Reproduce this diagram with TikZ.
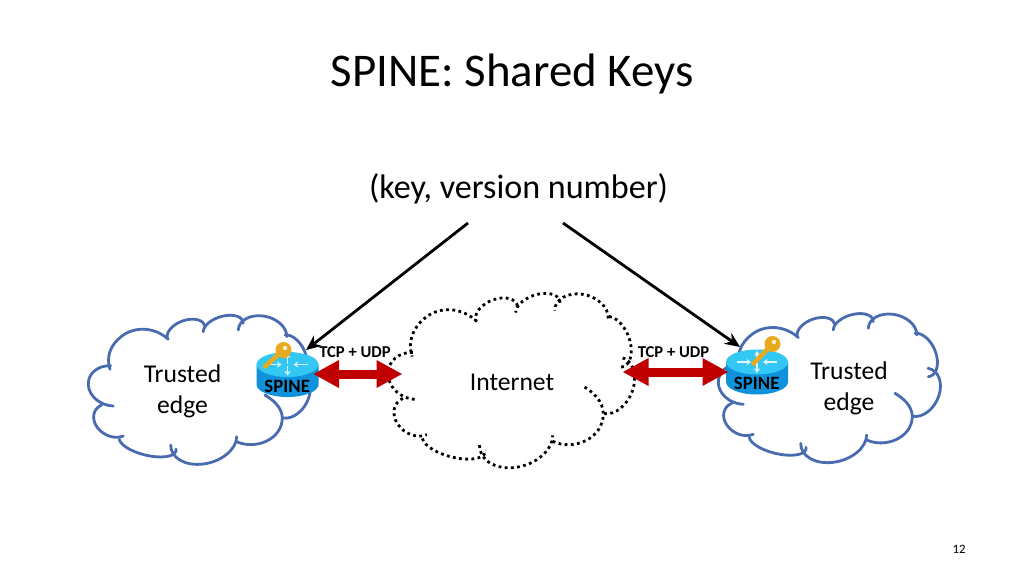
\documentclass[tikz,border=0pt]{standalone}
\usepackage{fontspec}
\setmainfont{Carlito}
\usetikzlibrary{arrows.meta}
\definecolor{cloudblue}{RGB}{72,108,175}
\definecolor{linkred}{RGB}{192,0,0}
\definecolor{keygold}{RGB}{232,170,30}
\definecolor{topblue}{RGB}{50,200,243}
\definecolor{sideblue}{RGB}{15,145,220}
\tikzset{
  cloudline/.style={cloudblue,line width=2.8pt,line cap=round},
  dotline/.style={black,line width=2.8pt,dash pattern=on 2.8pt off 3.4pt},
  pointer/.style={black,line width=2.8pt,-{Stealth[length=15pt,width=13pt]}},
  duplex/.style={linkred,line width=9pt,{Triangle[length=26pt,width=26pt]}-{Triangle[length=26pt,width=26pt]}},
  body/.style={font=\fontsize{25.6}{31}\selectfont,align=center,inner sep=0pt},
  proto/.style={font=\fontsize{16.6}{18}\selectfont\bfseries,inner sep=0pt},
  routername/.style={font=\fontsize{18.8}{20}\selectfont\bfseries,inner sep=0pt},
  flow/.style={white!85!topblue,line width=1.6pt,-{Stealth[length=4.5pt,width=6pt]}},
}
% half-ellipse lobe through start, apex, end
\newcommand{\lobe}[7]{%
  \pgfmathsetmacro{\ox}{(#2+#6)/2}\pgfmathsetmacro{\oy}{(#3+#7)/2}%
  \pgfmathsetmacro{\ax}{.552*(#2-\ox)}\pgfmathsetmacro{\ay}{.552*(#3-\oy)}%
  \pgfmathsetmacro{\bx}{.552*(#4-\ox)}\pgfmathsetmacro{\by}{.552*(#5-\oy)}%
  \draw[#1] (#2,#3) .. controls ({#2+\bx},{#3+\by}) and ({#4+\ax},{#5+\ay}) .. (#4,#5)
    .. controls ({#4-\ax},{#5-\ay}) and ({#6+\bx},{#7+\by}) .. (#6,#7);
}
\newcommand{\cloudlobes}[1]{%
  \lobe{#1}{110.7}{365.7}{88.3}{385}{113.3}{406}
  \lobe{#1}{101.7}{405}{97}{427}{123.3}{436}
  \lobe{#1}{119.3}{439.3}{150}{456}{176}{449}
  \lobe{#1}{170.7}{445}{203.3}{464}{236.7}{436.7}
  \draw[#1] (236.7,441.7) .. controls (255,450) and (282,440) .. (282.3,418) .. controls (282,407) and (273,400) .. (265,395);
  \lobe{#1}{283}{418}{309}{397}{298}{370}
  \lobe{#1}{298.3}{378.4}{306}{355}{285}{335}
  \lobe{#1}{286.7}{336.7}{263.3}{316}{238.3}{330}
  \lobe{#1}{243.3}{323.3}{223.3}{316}{203.3}{331.7}
  \lobe{#1}{205}{326}{183.3}{320.7}{167.3}{338.3}
  \draw[#1] (168.3,339.3) .. controls (155,327) and (135,326) .. (122,336) .. controls (110,345) and (106,357) .. (110,369.3);
}
% #1 name, #2 centre x, #3 top ellipse centre y, #4 key circle x, #5 key circle y, #6 key tail x, #7 key tail y
\newcommand{\spinerouter}[7]{%
  \fill[sideblue] (#2-31,#3) -- (#2-31,#3+20) arc[x radius=31,y radius=12.5,start angle=180,end angle=0] -- (#2+31,#3) -- cycle;
  \fill[topblue] (#2,#3) ellipse[x radius=31,y radius=12.5];
  \draw[flow] (#2-20,#3) -- (#2-6,#3);
  \draw[flow] (#2+20,#3) -- (#2+6,#3);
  \draw[flow] (#2,#3+1) -- (#2,#3+11);
  \draw[flow] (#2,#3-1) -- (#2,#3-11);
  \draw[keygold,line width=4.6pt,line cap=round] (#6,#7) -- (#4,#5);
  \fill[keygold] (#4,#5) circle[radius=8];
  \fill[white!80!keygold] (#4+1.5,#5-2) circle[radius=2.2];
  \node[routername] (#1) at (#2-0.3,#3+21.5) {SPINE};
}
\begin{document}
\begin{tikzpicture}[x=1pt,y=-1pt]
\useasboundingbox (0,0) rectangle (1024,576);
\node[font=\fontsize{46.9}{52}\selectfont,inner sep=0pt] (title) at (512,74) {SPINE: Shared Keys};
\node[font=\fontsize{34.1}{40}\selectfont,inner sep=0pt] (pair) at (518.5,189) {(key, version number)};
\cloudlobes{cloudline}
\begin{scope}[shift={(630,-1.7)}]
\cloudlobes{cloudline}
\end{scope}
\begin{scope}[shift={(290,-75.5)},xscale=1.11,yscale=1.17]
\cloudlobes{dotline}
\end{scope}
\spinerouter{routerL}{287.5}{364.5}{283.5}{350}{265}{366.5}
\spinerouter{routerR}{757}{362}{772.5}{344}{753.5}{363.5}
\node[body] (edgeL) at (182.5,391) {Trusted\\edge};
\node[body] (edgeR) at (849,388) {Trusted\\edge};
\node[body] (net) at (512,382) {Internet};
\node[proto] (protoL) at (355,352) {TCP + UDP};
\node[proto] (protoR) at (673.5,352) {TCP + UDP};
\coordinate (srcL) at (468,223);
\coordinate (srcR) at (563,223);
\coordinate (tipLa) at (306,350);
\coordinate (tipRa) at (740,347);
\draw[pointer] (srcL) -- (tipLa);
\draw[pointer] (srcR) -- (tipRa);
\coordinate (linkLa) at (313,374);
\coordinate (linkLb) at (402.5,374);
\coordinate (linkRa) at (622.5,372);
\coordinate (linkRb) at (728.5,372);
\draw[duplex] (linkLa) -- (linkLb);
\draw[duplex] (linkRa) -- (linkRb);
\node[font=\fontsize{12.8}{15}\selectfont,inner sep=0pt] (page) at (959,549) {12};
\end{tikzpicture}
\end{document}
